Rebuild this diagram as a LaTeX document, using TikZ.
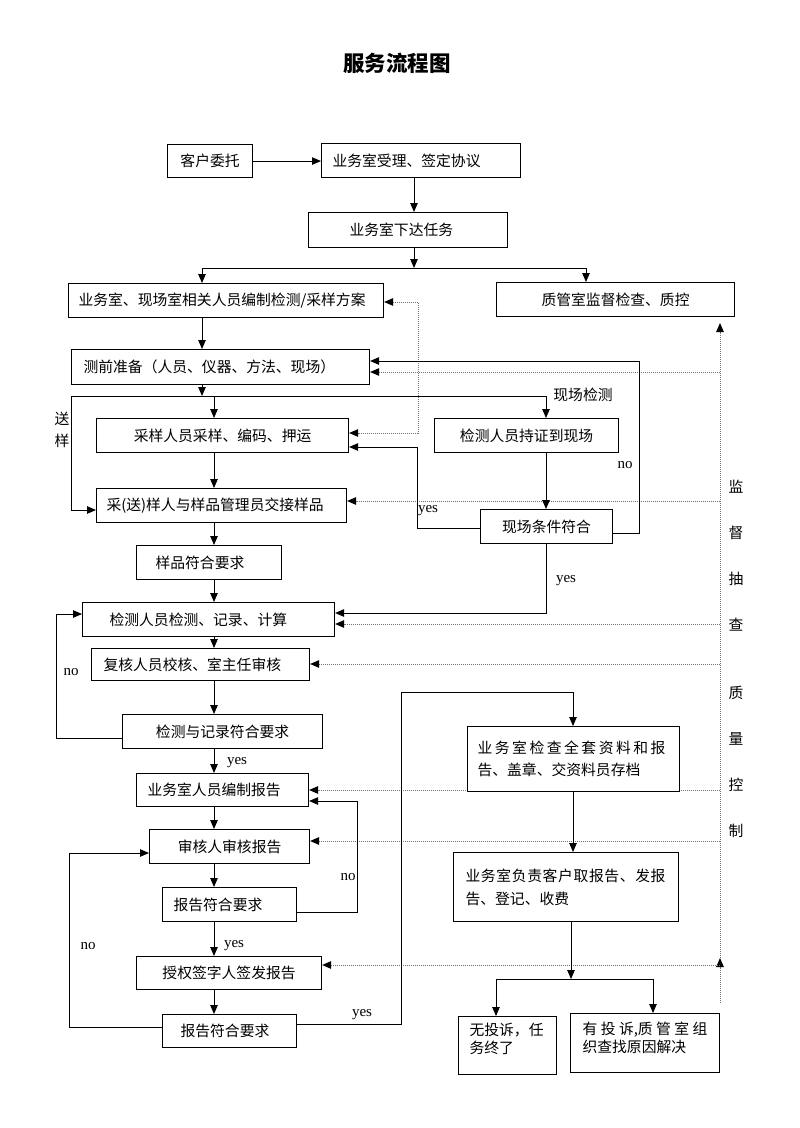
\documentclass[tikz,border=0pt]{standalone}
\usepackage{fontspec}
\setmainfont{Liberation Serif}
\newfontfamily\cjk{Noto Sans CJK SC}
\usetikzlibrary{arrows.meta,backgrounds}
\newcommand\cjkfs{\cjk\fontsize{14.8}{17}\selectfont}
\begin{document}
\begin{tikzpicture}[x=1pt,y=-1pt,
  box/.style={draw, line width=1.1pt, fill=white, anchor=north west, inner ysep=0pt, font=\cjkfs},
  arr/.style={line width=0.9pt, -{Triangle[length=9pt,width=7.5pt]}},
  qc/.style={draw=black!55, line width=1pt, dash pattern=on 1pt off 1pt, -{Triangle[length=9pt,width=7.5pt,color=black]}},
  qcb/.style={draw=black!55, line width=1pt, dash pattern=on 1pt off 1pt, {Triangle[length=9pt,width=7.5pt,color=black]}-{Triangle[length=9pt,width=7.5pt,color=black]}},
  lbl/.style={font=\fontsize{15}{17}\selectfont, inner sep=0pt},
  cjkl/.style={font=\cjkfs, inner sep=0pt}]
\useasboundingbox (0,0) rectangle (800,1128);

\node[font=\cjk\bfseries\fontsize{21.5}{24}\selectfont] (title) at (397,63) {服务流程图};

% boxes
\node[box, minimum width=85pt, minimum height=33pt, inner xsep=0pt] (kh) at (167,144) {客户委托};
\node[box, text width=177pt, inner xsep=11pt, align=left, minimum height=34pt] (sl) at (321,143) {业务室受理、签定协议};
\node[box, text width=117pt, inner xsep=41pt, align=left, minimum height=35pt] (xd) at (308,212) {业务室下达任务};
\node[box, text width=295pt, inner xsep=10pt, align=left, minimum height=34pt] (fa) at (68,283) {业务室、现场室相关人员编制检测/采样方案};
\node[box, minimum width=238pt, minimum height=34pt, inner xsep=0pt] (zg) at (496,282) {质管室监督检查、质控};
\node[box, text width=274pt, inner xsep=12pt, align=left, minimum height=35pt] (cq) at (71,349) {测前准备（人员、仪器、方法、现场）};
\node[box, minimum width=252pt, minimum height=34pt, inner xsep=0pt] (cy) at (96,418) {采样人员采样、编码、押运};
\node[box, minimum width=184pt, minimum height=34pt, inner xsep=0pt] (cz) at (434,418) {检测人员持证到现场};
\node[box, text width=230pt, inner xsep=10pt, align=left, minimum height=34pt] (jj) at (96,488) {采(送)样人与样品管理员交接样品};
\node[box, text width=107pt, inner xsep=19pt, align=left, minimum height=34pt] (yp) at (136,545) {样品符合要求};
\node[box, minimum width=132pt, minimum height=34pt, inner xsep=0pt] (xc) at (480,509) {现场条件符合};
\node[box, text width=198pt, inner xsep=27pt, align=left, minimum height=34pt] (jc) at (82,602) {检测人员检测、记录、计算};
\node[box, text width=194pt, inner xsep=12pt, align=left, minimum height=32pt] (fh) at (91,648) {复核人员校核、室主任审核};
\node[box, minimum width=200pt, minimum height=34pt, inner xsep=0pt] (jl) at (122,714) {检测与记录符合要求};
\node[box, text width=150pt, inner xsep=11pt, align=left, minimum height=33pt] (bz) at (136,773) {业务室人员编制报告};
\node[box, minimum width=160pt, minimum height=34pt, inner xsep=0pt] (sh) at (149,829) {审核人审核报告};
\node[box, text width=112pt, inner xsep=11pt, align=left, minimum height=34pt] (b1) at (162,887) {报告符合要求};
\node[box, minimum width=185pt, minimum height=33pt, inner xsep=0pt] (sq) at (136,956) {授权签字人签发报告};
\node[box, text width=98pt, inner xsep=18pt, align=left, minimum height=33pt] (b2) at (162,1014) {报告符合要求};
\node[box, text width=192pt, inner xsep=10pt, align=left, minimum height=65pt, font=\cjk\fontsize{14.8}{22}\selectfont] (jq) at (467,726)
  {\makebox[188pt][s]{业\hfill 务\hfill 室\hfill 检\hfill 查\hfill 全\hfill 套\hfill 资\hfill 料\hfill 和\hfill 报}\\告、盖章、交资料员存档};
\node[box, text width=201pt, inner xsep=12pt, align=left, minimum height=69pt, font=\cjk\fontsize{14.8}{23}\selectfont] (fz) at (453,852)
  {\makebox[200pt][s]{业\hfill 务\hfill 室\hfill 负\hfill 责\hfill 客\hfill 户\hfill 取\hfill 报\hfill 告\hfill 、\hfill 发\hfill 报}\\告、登记、收费};
\node[box, text width=76pt, inner xsep=11pt, align=left, minimum height=58pt, text depth=32pt, font=\cjk\fontsize{14.8}{18}\selectfont] (wt) at (458,1016) {无投诉，任\\务终了};
\node[box, text width=125pt, inner xsep=12pt, align=left, minimum height=59pt, text depth=30pt, font=\cjk\fontsize{14.8}{18}\selectfont] (yt) at (570,1013)
  {\makebox[125pt][s]{有\hfill 投\hfill 诉,质\hfill 管\hfill 室\hfill 组}\\织查找原因解决};

% labels
\node[lbl] (l1) at (428,511) {yes};
\node[lbl] (l2) at (625,465) {no};
\node[lbl] (l3) at (566,581) {yes};
\node[lbl] (l4) at (71,672) {no};
\node[lbl] (l5) at (237,763) {yes};
\node[lbl] (l6) at (348,877) {no};
\node[lbl] (l7) at (234,946) {yes};
\node[lbl] (l8) at (88,946) {no};
\node[lbl] (l9) at (362,1015) {yes};
\node[cjkl] (xcjc) at (583,395) {现场检测};
\node[cjkl, align=center, font=\cjk\fontsize{14.8}{22}\selectfont] (sy) at (62,430) {送\\样};
\node[cjkl, align=center, font=\cjk\fontsize{14.8}{46}\selectfont] (jd) at (736,556) {监\\督\\抽\\查};
\node[cjkl, align=center, font=\cjk\fontsize{14.8}{46}\selectfont] (zk) at (736,762) {质\\量\\控\\制};

% solid connectors
\coordinate (s1) at (414,268);
\coordinate (s2) at (202,396);
\coordinate (s2b) at (214,396);
\coordinate (s3) at (571,979);
\draw[arr] (kh.east) -- (sl.west |- kh.east);
\draw[arr] (sl.south -| s1) -- (xd.north -| s1);
\draw[arr] (xd.south -| s1) -- (s1);
\draw[arr] (s1) -| (fa.north -| 202,0);
\draw[arr] (s1) -| (zg.north -| 586,0);
\draw[arr] (fa.south -| s2) -- (cq.north -| s2);
\draw[arr] (cq.south -| s2) -- (s2);
\draw[arr] (s2) -- (71,396) |- (jj.west |- 0,510);
\draw[arr] (s2) -| (cz.north -| 546,0);
\draw[arr] (s2b) -- (cy.north -| s2b);
\draw[arr] (cy.south -| s2b) -- (jj.north -| s2b);
\draw[arr] (jj.south -| s2b) -- (yp.north -| s2b);
\draw[arr] (yp.south -| s2b) -- (jc.north -| s2b);
\draw[arr] (cz.south -| 546,0) -- (xc.north -| 546,0);
\draw[arr] (xc.west |- 0,528) -| (417,447) -- (cy.east |- 0,447);
\draw[arr] (xc.east |- 0,533) -| (639,361) -- (cq.east |- 0,361);
\draw[arr] (xc.south -| 546,0) |- (jc.east |- 0,613);
\draw[arr] (jc.south -| s2b) -- (fh.north -| s2b);
\draw[arr] (fh.south -| s2b) -- (jl.north -| s2b);
\draw[arr] (jl.west |- 0,738) -| (56,614) -- (jc.west |- 0,614);
\draw[arr] (jl.south -| s2b) -- (bz.north -| s2b);
\draw[arr] (bz.south -| s2b) -- (sh.north -| s2b);
\draw[arr] (sh.south -| s2b) -- (b1.north -| s2b);
\draw[arr] (b1.east |- 0,912) -| (357,801) -- (bz.east |- 0,801);
\draw[arr] (b1.south -| s2b) -- (sq.north -| s2b);
\draw[arr] (sq.south -| s2b) -- (b2.north -| s2b);
\draw[arr] (b2.west |- 0,1027) -| (69,853) -- (sh.west |- 0,853);
\draw[arr] (b2.east |- 0,1024) -| (401,692) -| (jq.north -| 573,0);
\draw[arr] (jq.south -| 573,0) -- (fz.north -| 573,0);
\draw[arr] (fz.south -| s3) -- (s3);
\draw[arr] (s3) -| (wt.north -| 496,0);
\draw[arr] (s3) -| (yt.north -| 653,0);

% quality control dotted lines
\coordinate (q0) at (720,1003);
\coordinate (q1) at (720,958);
\coordinate (qt) at (720,323);
\begin{scope}[on background layer]
\draw[qc] (q0) -- (q1);
\draw[qc] (q1) -- (qt);
\draw[qc] (qt |- 0,372) -- (cq.east |- 0,372);
\draw[qc] (qt |- 0,501) -- (jj.east |- 0,501);
\draw[qc] (qt |- 0,624) -- (jc.east |- 0,624);
\draw[qc] (qt |- 0,664) -- (fh.east |- 0,664);
\draw[qc] (qt |- 0,790) -- (bz.east |- 0,790);
\draw[qc] (qt |- 0,841) -- (sh.east |- 0,841);
\draw[qc] (qt |- 0,965) -- (sq.east |- 0,965);
\draw[qcb] (fa.east |- 0,302) -| (418,433) -- (cy.east |- 0,433);
\end{scope}
\end{tikzpicture}
\end{document}
